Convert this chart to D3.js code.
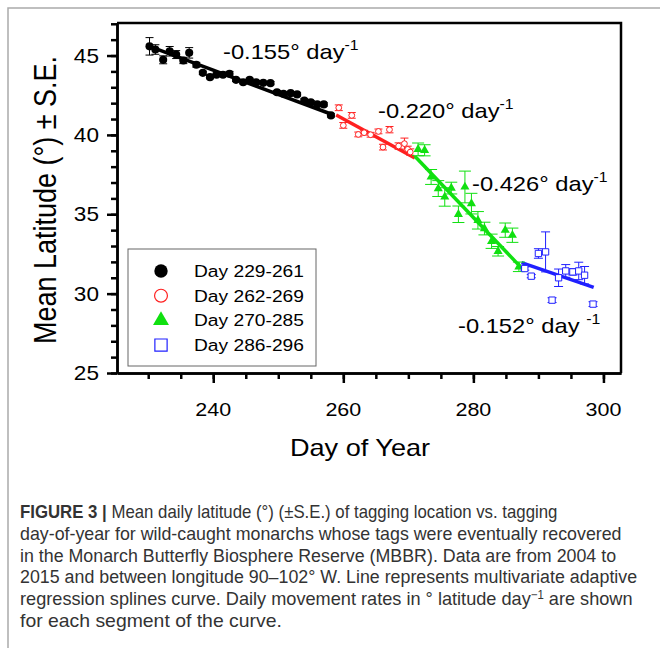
<!DOCTYPE html>
<html>
<head>
<meta charset="utf-8">
<script src="https://cdn.jsdelivr.net/npm/d3@7"></script>
<style>
body { margin: 0; background: #fff; }
text { font-family: Arial, "Liberation Sans", sans-serif; }
.cap { font-family: "Liberation Sans Narrow", "Arial Narrow", Arial, sans-serif; fill: #333; }
</style>
</head>
<body>
<svg id="fig" width="660" height="648"></svg>
<script>
// values
var blackDay = [230.2, 231.1, 232.3, 233.3, 234.3, 235.4, 236.3, 237.4, 238.4, 239.5, 240.5, 241.5, 242.5, 243.5,
                244.6, 245.6, 246.6, 247.7, 248.8, 249.8, 250.8, 251.9, 252.9, 254.0, 255.0, 256.0, 257.0, 258.1];
var blackLat = [45.58, 45.38, 44.73, 45.27, 45.06, 44.69, 45.17, 44.42, 43.91, 43.64, 43.79, 43.79, 43.85, 43.47,
                43.32, 43.47, 43.32, 43.28, 43.26, 42.69, 42.59, 42.63, 42.55, 42.17, 42.06, 41.92, 41.92, 41.23];
var blackSE  = [0.55, 0.3, 0.25, 0.3, 0.25, 0.2, 0.33, 0.15, 0.1, 0.1, 0.1, 0.1, 0.15, 0.1,
                0.1, 0.1, 0.1, 0.1, 0.1, 0.1, 0.1, 0.1, 0.1, 0.1, 0.1, 0.1, 0.1, 0.1];

var redDay = [259.3, 261.3, 260.0, 262.3, 263.2, 264.2, 265.4, 266.1, 267.1, 268.5, 269.4, 269.9, 270.3];
var redLat = [41.71, 41.23, 40.60, 40.03, 40.14, 40.01, 40.22, 39.23, 40.33, 39.30, 39.45, 39.09, 38.92];
var redSE  = [0.18, 0.18, 0.18, 0.15, 0.15, 0.15, 0.15, 0.18, 0.2, 0.2, 0.35, 0.2, 0.2];

var greenDay = [271.5, 272.5, 273.5, 274.6, 275.6, 276.6, 277.7, 278.7, 279.7, 280.7, 281.7, 282.8, 283.8, 284.9, 286.0, 287.0];
var greenLat = [39.09, 39.03, 37.35, 36.62, 36.09, 36.65, 35.0, 36.72, 35.67, 34.62, 34.10, 33.30, 32.67, 34.0, 33.68, 31.69];
var greenSE  = [0.4, 0.35, 0.47, 0.5, 0.58, 0.37, 0.52, 1.0, 0.65, 0.55, 0.4, 0.45, 0.3, 0.45, 0.45, 0.3];

var blueDay = [287.9, 288.9, 290.0, 291.1, 292.1, 293.1, 294.2, 295.3, 296.2, 297.1, 298.4];
var blueLat = [31.58, 31.10, 32.53, 32.63, 29.59, 31.00, 31.43, 31.37, 31.43, 31.16, 29.34];
var blueSE  = [0.1, 0.1, 0.3, 1.26, 0.15, 0.55, 0.4, 0.2, 0.55, 0.55, 0.15];

// MARS segments
var segStartDay = [229.8, 258.9, 271.0, 287.4];
var segEndDay   = [258.4, 271.0, 287.1, 298.5];
var segStartLat = [45.64, 41.25, 38.65, 31.95];
var segEndLat   = [41.27, 38.55, 31.75, 30.4];

var rateText = ["-0.155° day", "-0.220° day", "-0.426° day", "-0.152° day "];
var legendText = ["Day 229-261", "Day 262-269", "Day 270-285", "Day 286-296"];
var xMajor = [240, 260, 280, 300];
var yMajor = [25, 30, 35, 40, 45];

var colors = ["#000", "#ff2020", "#10e010", "#2020ff"];

var svg = d3.select("#fig");
var x = d3.scaleLinear().domain([225.2, 302.7]).range([117, 621]);
var y = d3.scaleLinear().domain([25, 47.05]).range([373, 23]);

// figure frame
svg.append("path").attr("d", "M8,648V8H660").attr("fill", "none").attr("stroke", "#aaa").attr("stroke-width", 1.5);

// text stretched a bit wider, like the original raster
function stretched(g, px, py, str, size, anchor) {
    return g.append("text")
        .attr("transform", "translate(" + px + "," + py + ") scale(1.13,1)")
        .attr("font-size", size)
        .attr("text-anchor", anchor || "start")
        .text(str);
}

// axes
var minorX = d3.axisBottom(x).tickValues(d3.range(230, 301, 5)).tickSize(6).tickFormat("").tickSizeOuter(0);
var majorX = d3.axisBottom(x).tickValues(xMajor).tickSize(10).tickFormat("").tickSizeOuter(0);
var minorY = d3.axisLeft(y).tickValues(d3.range(25, 48, 1)).tickSize(6).tickFormat("").tickSizeOuter(0);
var majorY = d3.axisLeft(y).tickValues(yMajor).tickSize(10).tickFormat("").tickSizeOuter(0);

[minorX, majorX].forEach(function(a) {
    svg.append("g").attr("transform", "translate(0,373)").call(a);
});
[minorY, majorY].forEach(function(a) {
    svg.append("g").attr("transform", "translate(117,0)").call(a);
});
svg.selectAll(".tick line, .domain").attr("stroke", "#000").attr("stroke-width", 2.5);

xMajor.forEach(function(v) { stretched(svg, x(v), 416, v, 19, "middle"); });
yMajor.forEach(function(v) { stretched(svg, 99, y(v) + 7, v, 20, "end"); });

// box top and right
svg.append("path").attr("d", "M117,23H621V373").attr("fill", "none").attr("stroke", "#000").attr("stroke-width", 2.5);

// axis titles
stretched(svg, 360, 456, "Day of Year", 24, "middle");
svg.append("text")
    .attr("transform", "translate(56,200) rotate(-90) scale(1,1.13)")
    .attr("font-size", 27)
    .attr("text-anchor", "middle")
    .text("Mean Latitude (°) ± S.E.");

// spline segments
var seg = svg.append("g");
segStartDay.forEach(function(d, i) {
    seg.append("line")
        .attr("x1", x(d)).attr("y1", y(segStartLat[i]))
        .attr("x2", x(segEndDay[i])).attr("y2", y(segEndLat[i]))
        .attr("stroke", colors[i]).attr("stroke-width", 3.5);
});

// points with error bars
function drawSeries(days, lats, se, color, capW, marker) {
    var g = svg.append("g");
    var pts = days.map(function(d, i) { return { d: d, v: lats[i], e: se[i] }; });
    var eb = g.selectAll("g.eb").data(pts).enter().append("g").attr("stroke", color).attr("stroke-width", 1);
    eb.append("line")
        .attr("x1", function(p) { return x(p.d); }).attr("x2", function(p) { return x(p.d); })
        .attr("y1", function(p) { return y(p.v - p.e); }).attr("y2", function(p) { return y(p.v + p.e); });
    [-1, 1].forEach(function(s) {
        eb.append("line")
            .attr("x1", function(p) { return x(p.d) - capW / 2; }).attr("x2", function(p) { return x(p.d) + capW / 2; })
            .attr("y1", function(p) { return y(p.v + s * p.e); }).attr("y2", function(p) { return y(p.v + s * p.e); });
    });
    marker(g.selectAll("path.m").data(pts).enter().append("path")
        .attr("transform", function(p) { return "translate(" + x(p.d) + "," + y(p.v) + ")"; }));
}

drawSeries(blackDay, blackLat, blackSE, colors[0], 8, function(s) {
    s.attr("d", d3.symbol(d3.symbolCircle, 52)).attr("fill", "#000");
});
drawSeries(redDay, redLat, redSE, colors[1], 8, function(s) {
    s.attr("d", d3.symbol(d3.symbolCircle, 26)).attr("fill", "#fff").attr("stroke", colors[1]).attr("stroke-width", 1);
});
drawSeries(greenDay, greenLat, greenSE, colors[2], 12, function(s) {
    s.attr("d", d3.symbol(d3.symbolTriangle, 36)).attr("fill", colors[2]);
});
drawSeries(blueDay, blueLat, blueSE, colors[3], 9, function(s) {
    s.attr("d", d3.symbol(d3.symbolSquare, 40)).attr("fill", "#fff").attr("stroke", colors[3]).attr("stroke-width", 1);
});

// rate labels
var ratePos = [[223, 59], [378, 118], [472, 191], [458, 333]];
rateText.forEach(function(t, i) {
    var tx = stretched(svg, ratePos[i][0], ratePos[i][1], t, 21, "start");
    tx.append("tspan").attr("font-size", 14).attr("dy", -9).text("-1");
});

// legend
var lg = svg.append("g");
lg.append("rect").attr("x", 128).attr("y", 249).attr("width", 188).attr("height", 117)
    .attr("fill", "#fff").attr("stroke", "#666").attr("stroke-width", 1);
var legSym = [
    function(s) { s.attr("d", d3.symbol(d3.symbolCircle, 140)).attr("fill", "#000"); },
    function(s) { s.attr("d", d3.symbol(d3.symbolCircle, 130)).attr("fill", "none").attr("stroke", colors[1]).attr("stroke-width", 1.2); },
    function(s) { s.attr("d", d3.symbol(d3.symbolTriangle, 110)).attr("fill", colors[2]); },
    function(s) { s.attr("d", d3.symbol(d3.symbolSquare, 150)).attr("fill", "none").attr("stroke", colors[3]).attr("stroke-width", 1.2); }
];
legendText.forEach(function(t, i) {
    var ry = 271 + i * 24.7;
    legSym[i](lg.append("path").attr("transform", "translate(161," + ry + ")"));
    stretched(lg, 194, ry + 6, t, 17, "start");
});

// caption: each line squeezed to the width it has in the figure
var capLines = [
    " Mean daily latitude (°) (±S.E.) of tagging location vs. tagging",
    "day-of-year for wild-caught monarchs whose tags were eventually recovered",
    "in the Monarch Butterfly Biosphere Reserve (MBBR). Data are from 2004 to",
    "2015 and between longitude 90–102° W. Line represents multivariate adaptive",
    "regression splines curve. Daily movement rates in ° latitude day",
    "for each segment of the curve."
];
var capWidth = [538, 602, 597, 618, 613, 262];
capLines.forEach(function(t, i) {
    var ct = svg.append("text").attr("class", "cap").attr("font-size", 17.5);
    if (i === 0) ct.append("tspan").attr("font-weight", "bold").text("FIGURE 3 | ");
    ct.append("tspan").text(i === 0 ? t.trim() : t);
    if (i === 4) {
        ct.append("tspan").attr("font-size", 11).attr("dy", -5.5).text("−1");
        ct.append("tspan").attr("dy", 5.5).text(" are shown");
    }
    var w = ct.node().getComputedTextLength();
    ct.attr("transform", "translate(20," + (518 + i * 21.75) + ") scale(" + (capWidth[i] / w) + ",1.1)");
});
</script>
</body>
</html>
